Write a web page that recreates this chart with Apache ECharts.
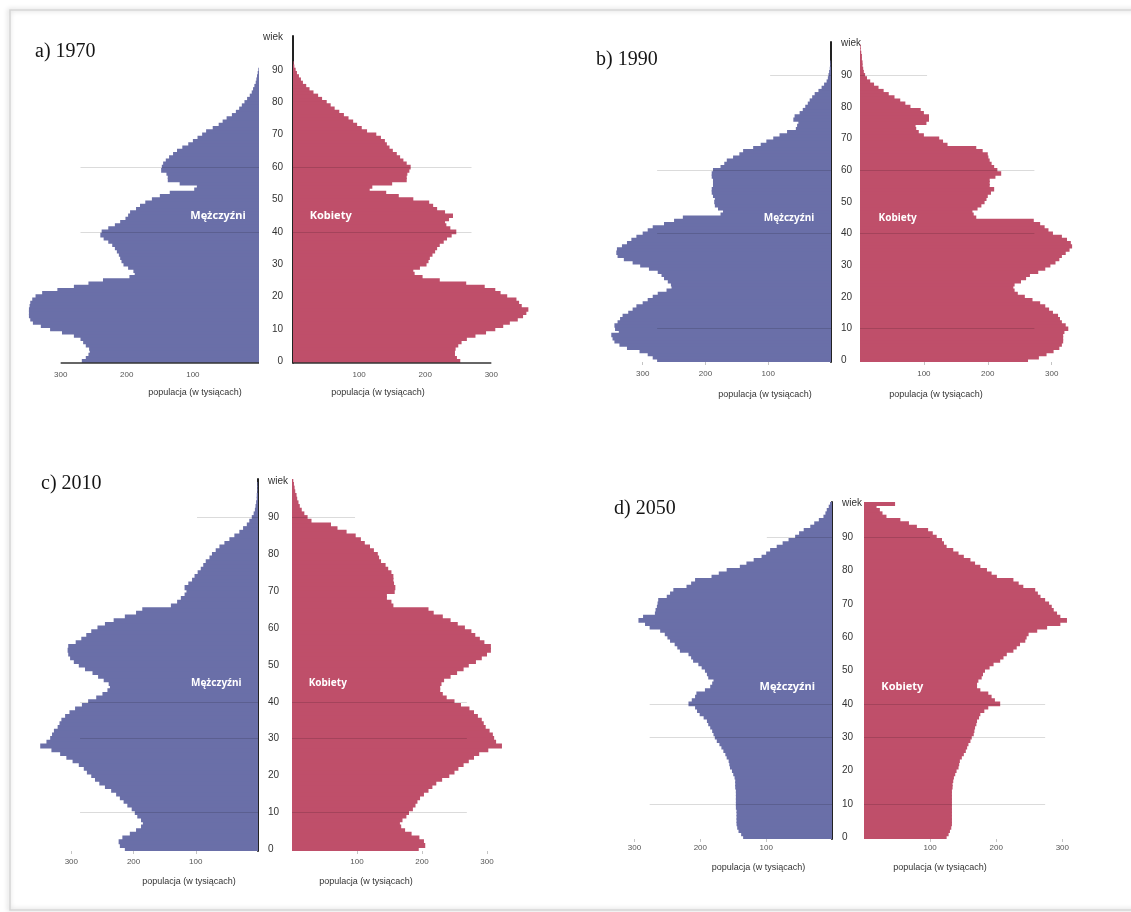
<!DOCTYPE html>
<html>
<head>
<meta charset="utf-8">
<script src="https://cdn.jsdelivr.net/npm/echarts@6/dist/echarts.min.js"></script>
<style>
  html, body { margin: 0; padding: 0; background: #ffffff; }
  #chart { width: 1131px; height: 912px; }
</style>
</head>
<body>
<div id="chart"></div>
<script>
// Age categories 0..100 (the top one is labelled "wiek")
const ages = Array.from({ length: 101 }, (_, i) => String(i));

// Population by single year of age, in thousands
const m1970 = [268,262,258,256,257,262,266,270,280,298,
  316,330,342,346,348,348,348,347,346,343,
  338,328,305,280,258,236,196,188,190,198,
  205,208,210,212,215,218,222,228,235,240,
  238,228,218,210,202,198,195,186,180,172,
  162,150,135,98,94,120,138,138,140,148,
  147,145,141,136,130,124,116,107,100,93,
  86,80,70,61,55,49,41,35,30,26,
  22,18,14,11,9,7,5,4,3,2,
  1,0,0,0,0,0,0,0,0,0,0];
const f1970 = [253,248,245,245,246,250,255,263,276,292,
  306,318,328,340,348,353,356,346,342,338,
  324,314,306,290,262,222,196,184,182,192,
  202,205,207,211,215,218,222,228,233,240,
  247,238,232,230,236,242,230,218,212,206,
  182,160,141,116,120,150,172,172,173,176,
  178,172,167,162,157,151,146,142,139,133,
  126,112,104,97,91,84,77,70,63,57,
  51,44,38,31,25,20,15,12,9,6,
  4,2,1,0,0,0,0,0,0,0,0];

const m1990 = [277,284,292,305,325,337,345,348,350,338,
  344,345,340,336,332,323,316,310,300,292,
  284,276,262,254,255,260,266,270,276,290,
  304,316,330,340,342,341,333,325,318,310,
  300,292,284,266,250,236,176,172,180,185,
  186,185,188,190,190,188,188,188,190,190,
  188,176,170,166,156,146,140,124,112,103,
  92,82,70,56,54,52,60,58,50,45,
  41,37,34,30,26,20,15,11,7,5,
  4,3,2,1,1,0,0,0,0,0,0];
const f1990 = [263,280,292,303,312,316,318,318,318,320,
  326,322,316,313,310,302,296,290,282,270,
  258,247,242,240,242,252,260,266,279,290,
  298,306,312,316,322,328,332,330,324,316,
  302,295,289,282,272,182,178,176,184,190,
  195,198,200,205,210,203,203,203,212,221,
  215,210,206,203,201,200,192,182,137,130,
  124,100,92,88,87,104,108,108,100,95,
  79,71,63,54,45,37,29,22,16,11,
  8,6,5,4,4,3,3,2,1,1,0];

const m2010 = [214,222,224,218,206,196,188,185,188,194,
  198,203,210,216,222,228,236,246,255,262,
  268,275,280,288,298,308,318,332,350,340,
  334,331,328,322,319,316,310,303,294,283,
  273,260,250,242,238,240,248,257,266,278,
  288,296,302,305,306,305,293,284,276,268,
  258,246,232,214,196,186,140,130,124,118,
  115,118,112,106,102,97,92,88,84,78,
  74,68,62,54,46,38,30,24,18,14,
  10,7,5,4,3,2,2,1,1,1,0];
const f2010 = [195,205,203,196,184,174,168,166,170,176,
  180,186,190,193,197,203,210,216,222,231,
  242,250,256,264,272,280,288,302,323,314,
  311,309,304,298,295,292,286,280,273,260,
  250,238,232,228,228,230,234,244,254,264,
  272,283,292,300,306,306,296,289,282,276,
  266,255,244,232,218,210,156,153,146,146,
  158,159,157,156,156,153,148,144,137,134,
  132,126,120,112,106,98,84,70,60,30,
  24,19,15,12,10,8,7,5,4,3,2];

const m2050 = [135,138,142,144,145,145,145,145,145,146,
  146,146,146,146,146,147,147,147,148,150,
  152,155,156,157,160,162,165,168,171,175,
  178,180,182,185,188,190,195,201,205,208,
  218,213,208,206,193,185,182,180,188,190,
  193,198,203,211,214,218,231,235,239,246,
  250,254,261,277,284,294,287,269,268,266,
  265,264,251,246,241,221,214,208,183,172,
  160,140,130,119,107,100,94,84,75,66,
  56,50,43,33,27,20,13,10,8,5,3];
const f2050 = [125,128,130,132,133,133,133,133,133,133,
  133,133,133,133,133,134,134,135,136,138,
  140,143,144,145,148,151,154,156,158,161,
  163,166,167,168,170,171,174,176,182,188,
  206,198,193,188,176,171,171,173,178,180,
  183,190,196,206,211,216,226,231,236,244,
  246,249,262,277,297,307,297,292,287,284,
  280,274,267,263,259,241,234,226,201,193,
  186,176,168,161,151,143,135,125,121,118,
  110,104,97,80,68,55,34,28,24,19,47];

// Population axis ticks (thousands) and its extent
const popTicks = [100, 200, 300];
const POP_MAX = 360;

// Text
const xName = 'populacja (w tysiącach)';
const maleLabel = 'Mężczyźni';
const femaleLabel = 'Kobiety';
const ageTopLabel = 'wiek';

// Colours
const MALE = '#6a6fa8';
const FEMALE = '#bf4f6a';
const INK = '#222222';

// Layout of the four pyramids: m/f = [left, width] of each half
const panels = [
  { title: 'a) 1970', titleAt: [35, 42], male: m1970, female: f1970,
    top: 36, height: 327, m: [21, 238], f: [293, 238], ageSide: 'female',
    xLine: true, ticks: false, labelGap: 8, nameGap: 25, namePad: [110, 68], tagSize: 11,
    tagAt: [62, 57], refs: [['60', 270, 270], ['40', 270, 270]] },
  { title: 'b) 1990', titleAt: [596, 50], male: m1990, female: f1990,
    top: 42, height: 320, m: [605, 226], f: [860, 230], ageSide: 'male',
    xLine: false, ticks: true, labelGap: 8, nameGap: 28, namePad: [94, 78], tagSize: 10,
    tagAt: [67, 59], refs: [['90', 97, 105], ['60', 277, 273], ['40', 277, 273], ['10', 277, 273]] },
  { title: 'c) 2010', titleAt: [41, 474], male: m2010, female: f2010,
    top: 479, height: 372, m: [34, 224], f: [292, 234], ageSide: 'male',
    xLine: false, ticks: true, labelGap: 7, nameGap: 26, namePad: [86, 86], tagSize: 10,
    tagAt: [67, 55], refs: [['90', 98, 97], ['40', 286, 269], ['30', 286, 269], ['10', 286, 269]] },
  { title: 'd) 2050', titleAt: [614, 499], male: m2050, female: f2050,
    top: 502, height: 337, m: [595, 237], f: [864, 238], ageSide: 'male',
    xLine: false, ticks: true, labelGap: 5, nameGap: 24, namePad: [90, 86], tagSize: 11,
    tagAt: [68, 58], refs: [['90', 99, 100], ['40', 277, 274], ['30', 277, 274], ['10', 277, 274]] }
];

const grids = [], xAxes = [], yAxes = [], series = [], titles = [];
const baseLines = []; // [gridIndex, bottom y] for halves drawn with a base line

panels.forEach((p) => {
  titles.push({
    text: p.title, left: p.titleAt[0], top: p.titleAt[1], padding: 0,
    textStyle: { fontFamily: 'Liberation Serif', fontSize: 20, fontWeight: 'normal', color: '#151515' }
  });

  [['male', p.m, p.male, MALE, maleLabel], ['female', p.f, p.female, FEMALE, femaleLabel]].forEach(
    ([side, box, values, color, tag], k) => {
      const gi = grids.length;
      const isMale = side === 'male';
      const showAge = p.ageSide === side;
      grids.push({ left: box[0], width: box[1], top: p.top, height: p.height, containLabel: false });
      if (p.xLine) baseLines.push([gi, p.top + p.height]);

      xAxes.push({
        gridIndex: gi, type: 'value', min: 0, max: POP_MAX, inverse: isMale,
        splitLine: { show: false },
        axisLine: { show: false },
        axisTick: { show: p.ticks, customValues: popTicks, length: 3, lineStyle: { color: '#c4c4c4' } },
        axisLabel: { customValues: popTicks, fontSize: 8, color: '#555', margin: p.labelGap,
                     fontFamily: 'Liberation Sans' },
        name: xName, nameLocation: 'middle', nameGap: p.nameGap,
        nameTextStyle: { fontSize: 9, color: '#333', fontFamily: 'Liberation Sans',
          padding: isMale ? [0, 0, 0, p.namePad[0]] : [0, p.namePad[1], 0, 0] }
      });

      yAxes.push({
        gridIndex: gi, type: 'category', data: ages,
        position: isMale ? 'right' : 'left',
        show: showAge,
        axisLine: { show: showAge, lineStyle: { color: INK, width: 2 } },
        axisTick: { show: false },
        axisLabel: { show: showAge, interval: 9, fontSize: 10, color: '#333', margin: 10,
                     fontFamily: 'Liberation Sans',
                     formatter: (v) => (v === '100' ? ageTopLabel : v) },
        splitLine: { show: false }
      });

      series.push({
        type: 'bar', xAxisIndex: gi, yAxisIndex: gi, data: values,
        // wider than the band so neighbouring ages join without seams
        barWidth: '140%',
        itemStyle: { color },
        silent: true,
        z: 2,
        markLine: {
          silent: true, symbol: 'none', animation: false,
          label: { show: false },
          lineStyle: { color: 'rgba(0,0,0,0.14)', width: 1, type: 'solid' },
          data: p.refs.map((r) => [{ coord: [0, r[0]] }, { coord: [isMale ? r[1] : r[2], r[0]] }])
        },
        markPoint: {
          silent: true, animation: false,
          symbol: 'circle', symbolSize: 1, itemStyle: { color: 'rgba(0,0,0,0)' },
          label: { show: true, position: 'inside', color: '#ffffff', fontWeight: 'bold',
                   fontSize: p.tagSize, fontFamily: 'Noto Sans', formatter: tag },
          data: [{ coord: [p.tagAt[k], '45'] }]
        }
      });
    });
});

const chart = echarts.init(document.getElementById('chart'), null, { renderer: 'canvas' });
chart.setOption({
  backgroundColor: '#ffffff',
  animation: false,
  title: titles,
  grid: grids,
  xAxis: xAxes,
  yAxis: yAxes,
  series: series
});

// Frame round the figure, plus base lines spanning 0..300 on the first pyramid
const graphics = [{
  type: 'rect', silent: true, z: -10,
  shape: { x: 10, y: 10, width: 1140, height: 900 },
  style: { fill: 'rgba(0,0,0,0)', stroke: '#d6d6d6', lineWidth: 1.5,
           shadowBlur: 5, shadowColor: 'rgba(0,0,0,0.25)', shadowOffsetX: -1 }
}];
baseLines.forEach(([gi, y]) => {
  const x0 = chart.convertToPixel({ xAxisIndex: gi }, 0);
  const x1 = chart.convertToPixel({ xAxisIndex: gi }, popTicks[popTicks.length - 1]);
  graphics.push({
    type: 'line', silent: true, z: 5,
    shape: { x1: x0, y1: y, x2: x1, y2: y },
    style: { stroke: '#333', lineWidth: 1.5 }
  });
});
chart.setOption({ graphic: graphics });
</script>
</body>
</html>
